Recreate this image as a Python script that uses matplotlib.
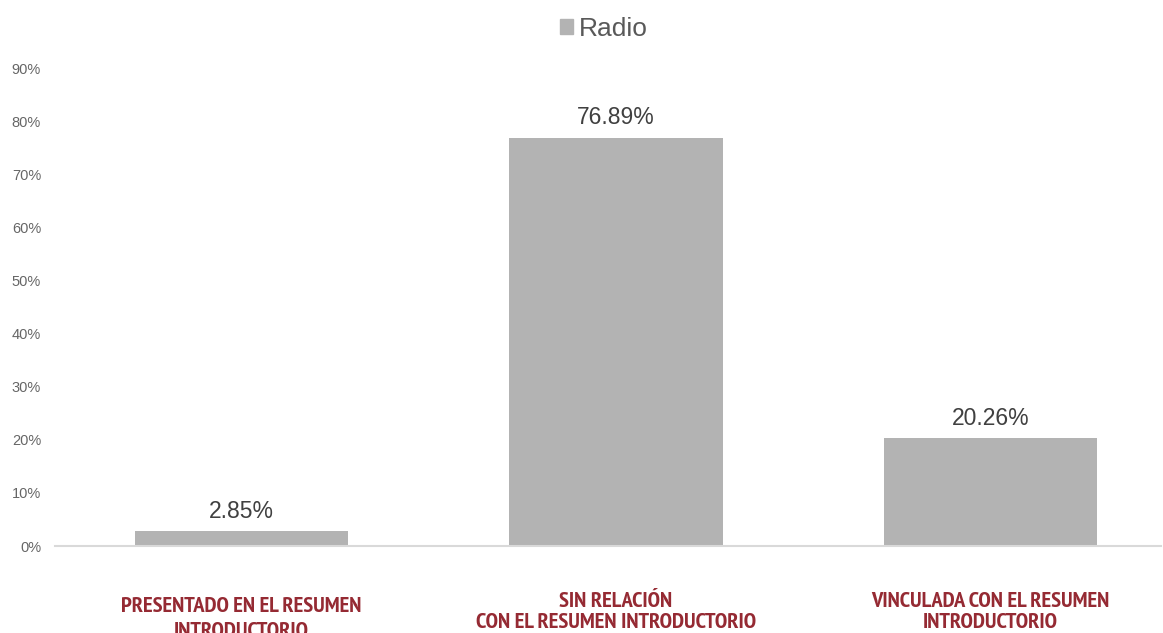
import matplotlib
matplotlib.use("Agg")
import matplotlib.pyplot as plt
from matplotlib.patches import Patch

categories = [["PRESENTADO EN EL RESUMEN", "INTRODUCTORIO"],
              ["SIN RELACIÓN", "CON EL RESUMEN INTRODUCTORIO"],
              ["VINCULADA CON EL RESUMEN", "INTRODUCTORIO"]]
values = [2.85, 76.89, 20.26]
series_name = "Radio"
yticks = [0, 10, 20, 30, 40, 50, 60, 70, 80, 90]

plt.rcParams['font.family'] = ['Liberation Sans', 'DejaVu Sans']

W, H = 1163, 633
fig = plt.figure(figsize=(W/100, H/100), dpi=100)
ax_top, ax_bot = 68, 546
ax = fig.add_axes([55/W, (H-ax_bot)/H, (1161-55)/W, (ax_bot-ax_top)/H])

x = list(range(len(values)))
bars = ax.bar(x, values, width=0.57, color="#b3b3b3", zorder=2)
ax.set_xlim(-0.498, 2.455)
ax.set_ylim(0, 90)
ax.set_yticks(yticks)
ax.set_yticklabels([f"{t}%" for t in yticks], fontsize=10.5, color="#666666")
ax.tick_params(axis='y', length=0, pad=10)
ax.tick_params(axis='x', length=0)
ax.set_xticks([])
for s in ["top", "right", "left"]:
    ax.spines[s].set_visible(False)
ax.spines["bottom"].set_color("#d9d9d9")
ax.spines["bottom"].set_linewidth(1.5)

for b, v in zip(bars, values):
    ax.annotate(f"{v:.2f}%", (b.get_x() + b.get_width()/2, v), xytext=(0, 6),
                textcoords="offset points", ha="center", va="bottom",
                fontsize=16.5, color="#404040")

# baselines (pixels from top) for the two lines of each category label
baselines = [(612, 637), (607, 628), (607, 628)]
trans = ax.get_xaxis_transform()
for i, (lines, bl) in enumerate(zip(categories, baselines)):
    for line, py in zip(lines, bl):
        ax.text(i, (ax_bot - py) / (ax_bot - ax_top), line, transform=trans,
                ha="center", va="baseline", fontsize=16.2, fontweight="bold",
                color="#952a33", family=["PT Sans Narrow", "DejaVu Sans"],
                clip_on=False)

leg = fig.legend(handles=[Patch(color="#b3b3b3", label=series_name)], loc="center",
                 bbox_to_anchor=(604/W, 1 - 29/H), frameon=False, fontsize=19,
                 handlelength=0.48, handleheight=0.48, handletextpad=0.25,
                 borderpad=0)
for t in leg.get_texts():
    t.set_color("#595959")

fig.savefig("out.png", dpi=100)
